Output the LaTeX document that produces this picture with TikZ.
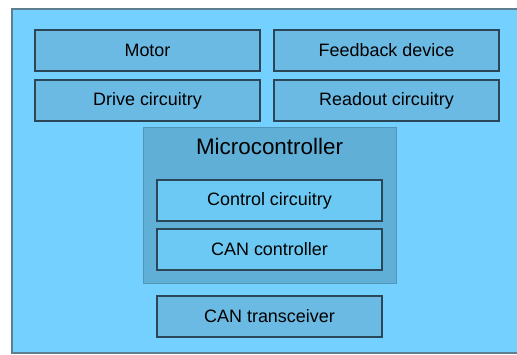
\documentclass[tikz,border=0pt]{standalone}
\usepackage{fontspec}
\setmainfont{Liberation Sans}
\usetikzlibrary{calc}
\definecolor{skyback}{HTML}{74D0FE}
\definecolor{partfill}{HTML}{6BBAE3}
\definecolor{mcufill}{HTML}{5FAFD7}
\definecolor{innerfill}{HTML}{6BC9F3}
\definecolor{partline}{HTML}{2B4656}
\definecolor{outline}{HTML}{5F7F90}

\begin{document}
\begin{tikzpicture}[x=1bp,y=-1bp,
    part/.style={rectangle,draw=partline,line width=1.2bp,fill=partfill,
      minimum width=225bp,minimum height=41bp,inner sep=0pt,
      font=\fontsize{18}{21}\selectfont}]
      \useasboundingbox (0,0) rectangle (517,354);
      \draw [draw=outline,line width=1.2bp,fill=skyback] (12,9) rectangle (530,353);
      \foreach \name/\x/\y/\txt in {motor/147.5/50.5/Motor,feedback/386.5/50.5/Feedback device,
          drive/147.5/100.5/Drive circuitry,readout/386.5/100.5/Readout circuitry}{
        \node (\name) [part] at (\x,\y) {\txt};
      }
      \node (mcu) [rectangle,draw=mcufill!85!black,line width=0.8bp,fill=mcufill,
        minimum width=253bp,minimum height=156bp] at (269.5,205) {};
      \node (mcutitle) at ($ (mcu.north)+(0,20) $) {\fontsize{22.5}{26}\selectfont Microcontroller};
      \foreach \name/\y/\txt in {control/200.5/Control circuitry,canctrl/249.5/CAN controller}{
        \node (\name) [part,fill=innerfill] at (269.5,\y) {\txt};
      }
      \node (transceiver) [part] at (269.5,316.5) {CAN transceiver};
    \end{tikzpicture}
\end{document}
